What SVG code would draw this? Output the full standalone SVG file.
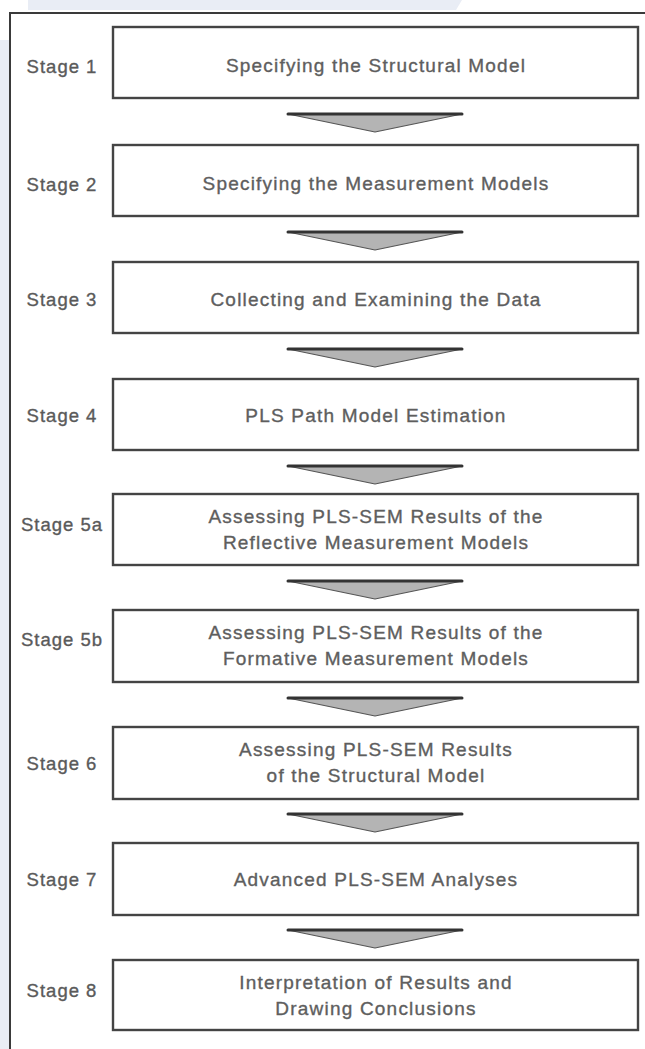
<svg xmlns="http://www.w3.org/2000/svg" width="645" height="1049" viewBox="0 0 645 1049">
<style>
.bg{fill:#e9edf5}
.frame{fill:none;stroke:#3a3a3a;stroke-width:2}
.box{fill:#fff;stroke:#444;stroke-width:2.4}
.lbl{font-family:"Liberation Sans",Arial,sans-serif;font-size:18.5px;fill:#5a5a5a;stroke:#5a5a5a;stroke-width:0.35;text-anchor:middle;letter-spacing:1px}
.txt{font-family:"Liberation Sans",Arial,sans-serif;font-size:19px;fill:#5e5e5e;stroke:#5e5e5e;stroke-width:0.35;text-anchor:middle;letter-spacing:1.2px}
.arr{fill:#b4b4b4;stroke:#555;stroke-width:1.2;stroke-linejoin:round}
.arrtop{stroke:#333;stroke-width:3;stroke-linecap:round}
</style>
<rect width="645" height="1049" fill="#fff"/>
<polygon class="bg" points="28,0 462,0 456,10 28,10"/>
<rect class="bg" x="0" y="40" width="9" height="1009"/>
<path class="frame" d="M10,1049 V13 H645"/>
<g id="connectors">
<g transform="translate(0,114)"><polygon class="arr" points="288,0 462,0 375,18"/><line class="arrtop" x1="288" y1="0" x2="462" y2="0"/></g>
<g transform="translate(0,232)"><polygon class="arr" points="288,0 462,0 375,18"/><line class="arrtop" x1="288" y1="0" x2="462" y2="0"/></g>
<g transform="translate(0,349)"><polygon class="arr" points="288,0 462,0 375,18"/><line class="arrtop" x1="288" y1="0" x2="462" y2="0"/></g>
<g transform="translate(0,466)"><polygon class="arr" points="288,0 462,0 375,18"/><line class="arrtop" x1="288" y1="0" x2="462" y2="0"/></g>
<g transform="translate(0,581)"><polygon class="arr" points="288,0 462,0 375,18"/><line class="arrtop" x1="288" y1="0" x2="462" y2="0"/></g>
<g transform="translate(0,698)"><polygon class="arr" points="288,0 462,0 375,18"/><line class="arrtop" x1="288" y1="0" x2="462" y2="0"/></g>
<g transform="translate(0,814)"><polygon class="arr" points="288,0 462,0 375,18"/><line class="arrtop" x1="288" y1="0" x2="462" y2="0"/></g>
<g transform="translate(0,930)"><polygon class="arr" points="288,0 462,0 375,18"/><line class="arrtop" x1="288" y1="0" x2="462" y2="0"/></g>
</g>
<g id="stage1"><rect class="box" x="113" y="27" width="525" height="71"/><text class="lbl" x="62" y="73">Stage 1</text><text class="txt" x="376" y="72">Specifying the Structural Model</text></g>
<g id="stage2"><rect class="box" x="113" y="145" width="525" height="71"/><text class="lbl" x="62" y="191">Stage 2</text><text class="txt" x="376" y="190">Specifying the Measurement Models</text></g>
<g id="stage3"><rect class="box" x="113" y="262" width="525" height="71"/><text class="lbl" x="62" y="306">Stage 3</text><text class="txt" x="376" y="306">Collecting and Examining the Data</text></g>
<g id="stage4"><rect class="box" x="113" y="379" width="525" height="71"/><text class="lbl" x="62" y="422">Stage 4</text><text class="txt" x="376" y="422">PLS Path Model Estimation</text></g>
<g id="stage5a"><rect class="box" x="113" y="494" width="525" height="71"/><text class="lbl" x="62" y="531">Stage 5a</text><text class="txt" x="376" y="523">Assessing PLS-SEM Results of the</text><text class="txt" x="376" y="549">Reflective Measurement Models</text></g>
<g id="stage5b"><rect class="box" x="113" y="610" width="525" height="72"/><text class="lbl" x="62" y="646">Stage 5b</text><text class="txt" x="376" y="639">Assessing PLS-SEM Results of the</text><text class="txt" x="376" y="665">Formative Measurement Models</text></g>
<g id="stage6"><rect class="box" x="113" y="727" width="525" height="72"/><text class="lbl" x="62" y="770">Stage 6</text><text class="txt" x="376" y="756">Assessing PLS-SEM Results</text><text class="txt" x="376" y="782">of the Structural Model</text></g>
<g id="stage7"><rect class="box" x="113" y="843" width="525" height="72"/><text class="lbl" x="62" y="886">Stage 7</text><text class="txt" x="376" y="886">Advanced PLS-SEM Analyses</text></g>
<g id="stage8"><rect class="box" x="113" y="960" width="525" height="70"/><text class="lbl" x="62" y="997">Stage 8</text><text class="txt" x="376" y="989">Interpretation of Results and</text><text class="txt" x="376" y="1015">Drawing Conclusions</text></g>
</svg>
